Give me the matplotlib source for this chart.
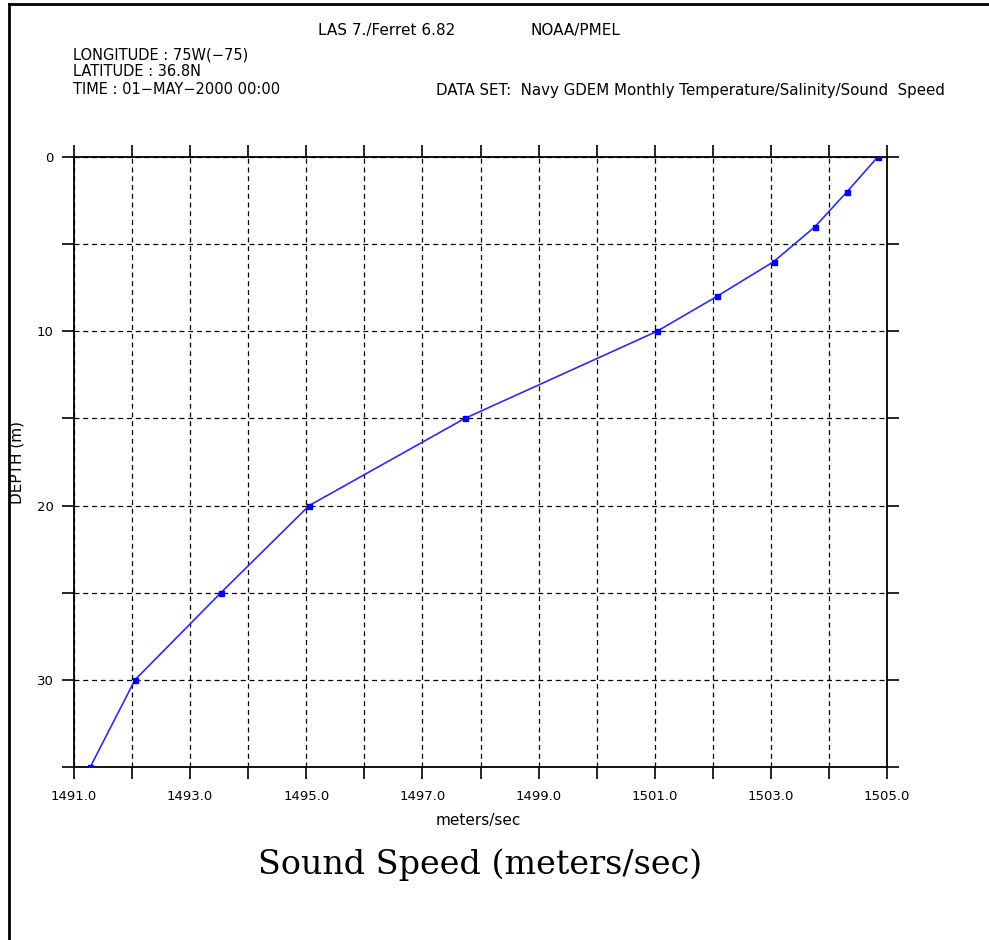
"""Sound speed profile, Navy GDEM monthly climatology (Ferret-style plot)."""
import numpy as np
import matplotlib
matplotlib.use("Agg")
import matplotlib.pyplot as plt
from matplotlib.lines import Line2D

W, H = 989, 940

depth = [0, 2, 4, 6, 8, 10, 15, 20, 25, 30, 35]
speed = [1504.84, 1504.31, 1503.76, 1503.05, 1502.07, 1501.04,
         1497.73, 1495.05, 1493.53, 1492.05, 1491.28]

x_ticks = list(range(1491, 1506))
x_labels = [f"{v:.1f}" if v % 2 == 1 else "" for v in x_ticks]
y_ticks = [0, 5, 10, 15, 20, 25, 30, 35]
y_labels = ["0", "", "10", "", "20", "", "30", ""]


def fx(px):
    return px / W


def fy(py):
    return 1 - py / H


fig = plt.figure(figsize=(W / 100, H / 100), dpi=100)
ax = fig.add_axes([fx(74), fy(767), 813 / W, 610 / H])

ax.plot(speed, depth, color="#2a2aff", lw=1.2, marker="s", ms=3.6,
        mec="#0000ff", mfc="#0000ff", zorder=3)

ax.set_xlim(1491, 1505)
ax.set_ylim(35, 0)
ax.set_xticks(x_ticks)
ax.set_xticklabels(x_labels)
ax.set_yticks(y_ticks)
ax.set_yticklabels(y_labels)
ax.tick_params(direction="out", length=8.6, width=1.2, colors="black",
               labelsize=9.5, top=True, right=True, pad=8)
ax.tick_params(axis="y", pad=6)
for s in ax.spines.values():
    s.set_linewidth(1.3)
ax.grid(True, color="black", lw=0.9, ls=(0, (4, 3)))
ax.set_axisbelow(False)

# header text
fig.text(fx(318), fy(30), "LAS 7./Ferret 6.82", fontsize=11, va="center")
fig.text(fx(530), fy(30), "NOAA/PMEL", fontsize=11, va="center")
fig.text(fx(73), fy(55), "LONGITUDE : 75W(\u221275)", fontsize=10.5, va="center")
fig.text(fx(73), fy(72), "LATITUDE : 36.8N", fontsize=10.5, va="center")
fig.text(fx(73), fy(90), "TIME : 01\u2212MAY\u22122000 00:00", fontsize=10.5, va="center")
fig.text(fx(436), fy(90),
         "DATA SET:  Navy GDEM Monthly Temperature/Salinity/Sound  Speed",
         fontsize=10.8, va="center")

fig.text(fx(478), fy(820), "meters/sec", fontsize=11, ha="center", va="center")
fig.text(fx(17), fy(462), "DEPTH (m)", fontsize=11, rotation=90,
         ha="center", va="center")
fig.text(fx(480), fy(865), "Sound Speed (meters/sec)", fontsize=24,
         family="DejaVu Serif", ha="center", va="center")

# page border on the left and top
fig.add_artist(Line2D([fx(9), fx(9)], [0, fy(4)], color="black", lw=2))
fig.add_artist(Line2D([fx(9), 1], [fy(4), fy(4)], color="black", lw=2))

fig.savefig("out.png", dpi=100)
